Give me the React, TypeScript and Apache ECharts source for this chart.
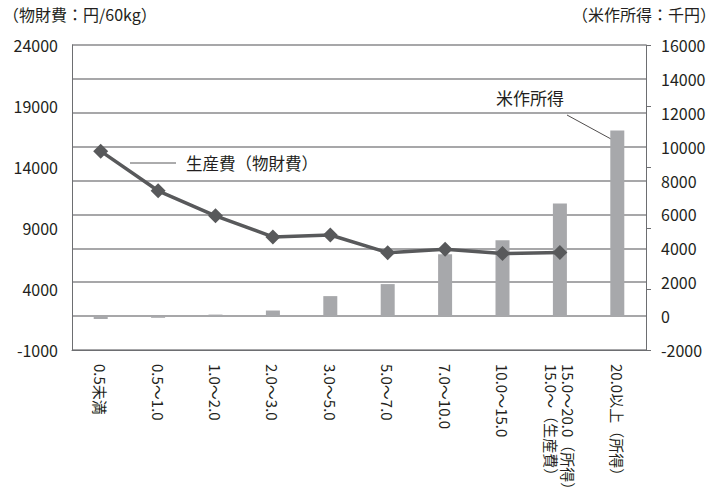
import React, { useEffect, useRef } from "react";
import * as echarts from "echarts";

const categories = [
  "0.5未満",
  "0.5～1.0",
  "1.0～2.0",
  "2.0～3.0",
  "3.0～5.0",
  "5.0～7.0",
  "7.0～10.0",
  "10.0～15.0",
  "15.0～20.0（所得）\n15.0～（生産費）",
  "20.0以上（所得）",
];

// 生産費（物財費） 円/60kg — left axis
const costValues: (number | null)[] = [15300, 12050, 10000, 8270, 8430, 6980, 7250, 6900, 7000, null];
// 米作所得 千円 — right axis
const incomeValues = [-170, -100, 90, 330, 1180, 1890, 3650, 4480, 6640, 10950];

const leftTicks = { min: -1000, max: 24000, interval: 5000 };
const rightTicks = { min: -2000, max: 16000, interval: 2000 };

const FONT = "'Noto Sans CJK JP', 'Noto Sans', sans-serif";
const TEXT = "#231f20";
const plain = (v: number) => String(v);

export default function App() {
  const ref = useRef<HTMLDivElement>(null);
  useEffect(() => {
    if (!ref.current) return;
    document.body.style.margin = "0";
    document.body.style.overflow = "hidden";
    const chart = echarts.init(ref.current, null, { renderer: "svg", width: 718, height: 501 });
    chart.setOption({
      animation: false,
      textStyle: { fontFamily: FONT },
      grid: {
        left: 72,
        right: 72,
        top: 45,
        bottom: 151,
        containLabel: false,
        outerBoundsMode: "none",
      },
      xAxis: {
        type: "category",
        data: categories,
        axisLine: { onZero: false, lineStyle: { color: "#6d6e71", width: 1 } },
        axisTick: { show: false },
        axisLabel: {
          rotate: -90,
          interval: 0,
          margin: 14,
          fontSize: 15,
          color: TEXT,
          fontFamily: FONT,
          lineHeight: 17,
        },
      },
      yAxis: [
        {
          type: "value",
          position: "left",
          ...leftTicks,
          axisLine: { show: true, lineStyle: { color: "#6d6e71", width: 1 } },
          axisTick: { show: false },
          splitLine: { show: false },
          axisLabel: { fontSize: 16, color: TEXT, margin: 14, fontFamily: FONT, formatter: plain },
        },
        {
          type: "value",
          position: "right",
          ...rightTicks,
          axisLine: { show: true, lineStyle: { color: "#6d6e71", width: 1 } },
          axisTick: { show: false },
          splitLine: { show: true, lineStyle: { color: "#8a8a8c", width: 1.5 } },
          axisLabel: { fontSize: 16, color: TEXT, margin: 15, fontFamily: FONT, formatter: plain },
        },
        {
          type: "value",
          position: "right",
          ...leftTicks,
          axisLine: { show: false },
          axisTick: { show: true, length: 5, lineStyle: { color: "#6d6e71" } },
          splitLine: { show: false },
          axisLabel: { show: false },
        },
      ],
      series: [
        {
          name: "米作所得",
          type: "bar",
          yAxisIndex: 1,
          data: incomeValues,
          barWidth: 14,
          itemStyle: { color: "#a7a8ab" },
          z: 2,
        },
        {
          name: "生産費（物財費）",
          type: "line",
          yAxisIndex: 0,
          data: costValues,
          symbol: "diamond",
          symbolSize: 15,
          showSymbol: true,
          lineStyle: { color: "#58595b", width: 3.5 },
          itemStyle: { color: "#58595b" },
          z: 3,
        },
      ],
      graphic: [
        {
          type: "text",
          left: 3,
          top: 6,
          style: { text: "（物財費：円/60kg）", fontSize: 16, fill: TEXT, fontFamily: FONT },
        },
        {
          type: "text",
          right: 2,
          top: 6,
          style: { text: "（米作所得：千円）", fontSize: 16, fill: TEXT, fontFamily: FONT },
        },
        {
          type: "line",
          shape: { x1: 130, y1: 163, x2: 176, y2: 163 },
          style: { stroke: "#58595b", lineWidth: 1 },
        },
        {
          type: "text",
          x: 186,
          y: 163,
          style: {
            text: "生産費（物財費）",
            fontSize: 16.5,
            fill: TEXT,
            fontFamily: FONT,
            verticalAlign: "middle",
          },
        },
        {
          type: "text",
          x: 496,
          y: 97,
          style: {
            text: "米作所得",
            fontSize: 17,
            fill: TEXT,
            fontFamily: FONT,
            verticalAlign: "middle",
          },
        },
        {
          type: "line",
          shape: { x1: 567, y1: 115, x2: 611, y2: 139 },
          style: { stroke: "#231f20", lineWidth: 0.8 },
        },
      ],
    });
    return () => chart.dispose();
  }, []);
  return <div ref={ref} style={{ width: 718, height: 501, background: "#fff" }} />;
}
